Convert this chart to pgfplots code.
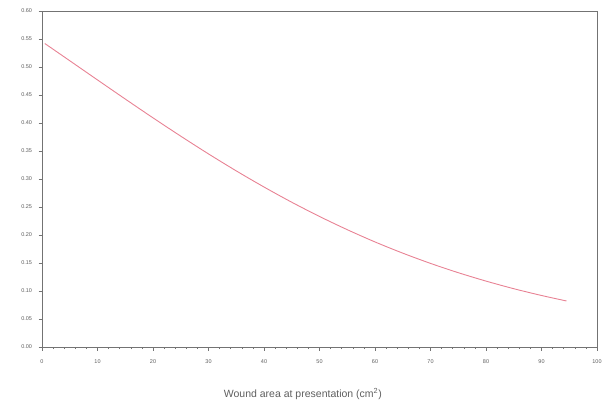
\documentclass[border=0pt]{standalone}
\usepackage{pgfplots}
\pgfplotsset{compat=1.18}
\usepackage{fontspec}
\setmainfont{Liberation Sans}
\definecolor{curve}{RGB}{232,130,148}
\definecolor{axgray}{RGB}{115,115,115}
\definecolor{txtgray}{RGB}{95,95,95}
\begin{document}
\begin{tikzpicture}[x=1pt,y=1pt]
\begin{axis}[
  at={(0,0)}, anchor=south west,
  width=555pt, height=336pt, scale only axis,
  xmin=0, xmax=100, ymin=0, ymax=0.60,
  xtick={0,10,...,100}, minor x tick num=4,
  ytick={0,0.05,...,0.601},
  axis x line*=bottom, axis y line*=left,
  axis line style={axgray, line width=0.6pt},
  every outer x axis line/.append style={-}, every outer y axis line/.append style={-},
  tick align=outside,
  major tick length=3.5pt, minor tick length=2pt,
  tick style={axgray, line width=0.5pt},
  xtick pos=bottom, ytick pos=left,
  ticklabel style={font=\fontsize{5.5}{6.5}\selectfont, text=txtgray},
  xticklabel style={yshift=-6pt},
  yticklabel style={xshift=-3pt, /pgf/number format/fixed, /pgf/number format/fixed zerofill, /pgf/number format/precision=2},
  /pgf/number format/assume math mode=true,
  xlabel={Wound area at presentation (cm\textsuperscript{2})},
  xlabel style={font=\fontsize{10.5}{12}\selectfont, text=txtgray, at={(axis description cs:0.47,0)}, anchor=north, yshift=-38pt},
  clip=false,
]
\addplot[curve, line width=0.9pt, smooth] coordinates {
(0.5,0.5420) (5,0.5112) (10,0.4769) (15,0.4428) (20,0.4092) (25,0.3765)
(30,0.3448) (35,0.3145) (40,0.2857) (45,0.2585) (50,0.2331) (55,0.2095)
(60,0.1876) (65,0.1676) (70,0.1493) (75,0.1327) (80,0.1177) (85,0.1041)
(90,0.0920) (94.5,0.0822)
};
\end{axis}
\draw[axgray, line width=0.6pt] (0,336) -- (555,336) -- (555,0);
\path[use as bounding box] (-42,-57) rectangle (565,347);
\end{tikzpicture}
\end{document}
